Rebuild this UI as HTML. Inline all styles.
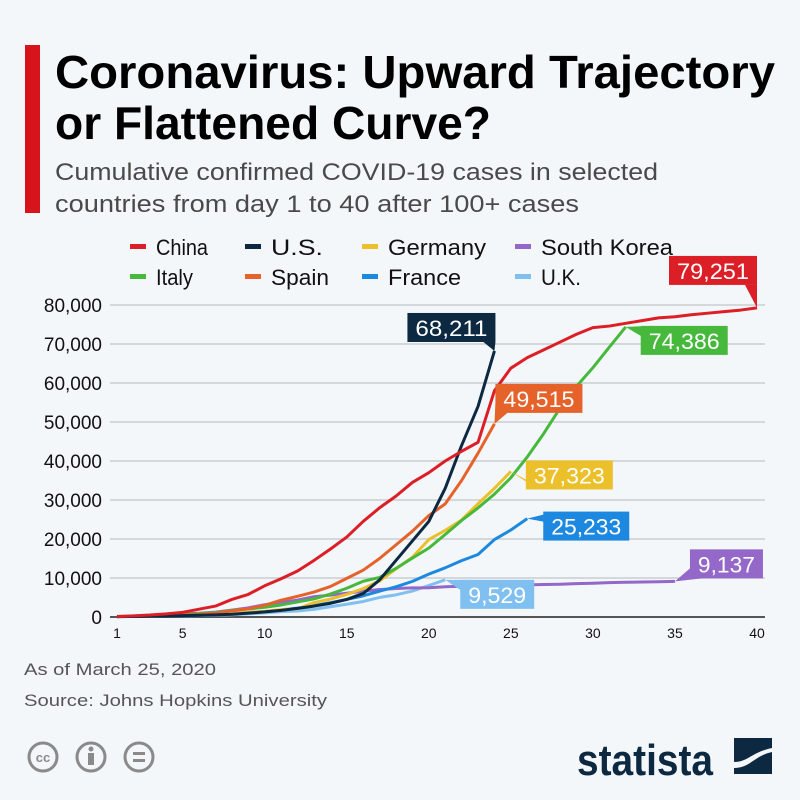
<!DOCTYPE html>
<html><head><meta charset="utf-8"><style>
html,body{margin:0;padding:0;background:#f3f7fa;}
svg{display:block;font-family:"Liberation Sans",sans-serif;}
</style></head><body>
<svg id="chart" width="800" height="800" viewBox="0 0 800 800">
<rect width="800" height="800" fill="#f3f7fa"/>
<rect x="25" y="45" width="15" height="168" fill="#d7131c"/>
<text x="55" y="88" font-size="46" font-weight="bold" fill="#000" textLength="720" lengthAdjust="spacingAndGlyphs">Coronavirus: Upward Trajectory</text>
<text x="55" y="139" font-size="46" font-weight="bold" fill="#000" textLength="436" lengthAdjust="spacingAndGlyphs">or Flattened Curve?</text>
<text x="55" y="180" font-size="24" fill="#4a4a4a" textLength="603" lengthAdjust="spacingAndGlyphs">Cumulative confirmed COVID-19 cases in selected</text>
<text x="55" y="212" font-size="24" fill="#4a4a4a" textLength="524" lengthAdjust="spacingAndGlyphs">countries from day 1 to 40 after 100+ cases</text>
<g id="legend"></g>
<g id="grid"></g>
<g id="series"></g>
<g id="labels"></g>
<text x="24" y="675" font-size="17" fill="#555" textLength="192" lengthAdjust="spacingAndGlyphs">As of March 25, 2020</text>
<text x="24" y="706" font-size="17" fill="#555" textLength="303" lengthAdjust="spacingAndGlyphs">Source: Johns Hopkins University</text>
<g fill="none" stroke="#8a8a8a" stroke-width="3">
<circle cx="43" cy="757" r="14"/><circle cx="91" cy="757" r="14"/><circle cx="139" cy="757" r="14"/>
<text x="43" y="762" font-size="13" font-weight="bold" fill="#8a8a8a" stroke="none" text-anchor="middle">cc</text>
<circle cx="91" cy="749" r="2.5" fill="#8a8a8a" stroke="none"/>
<rect x="88" y="753" width="6" height="12" fill="#8a8a8a" stroke="none"/>
<rect x="133" y="752" width="12" height="3" fill="#8a8a8a" stroke="none"/>
<rect x="133" y="759" width="12" height="3" fill="#8a8a8a" stroke="none"/>
</g>
<text x="577" y="775" font-size="44" font-weight="bold" fill="#0d2841" textLength="136" lengthAdjust="spacingAndGlyphs">statista</text>
<g>
<rect x="734" y="738" width="38" height="36" fill="#0d2841"/>
<path d="M734 762 C748 762 752 752 772 748 L772 752 C754 756 750 768 734 768 Z" fill="#f3f7fa"/>
</g>
</svg>
<script>
const days = Array.from({length:40},(_,i)=>i+1);
const xTicks = [1,5,10,15,20,25,30,35,40];
const yTicks = [0,10000,20000,30000,40000,50000,60000,70000,80000];
const seriesNames = ["China","U.S.","Germany","South Korea","Italy","Spain","France","U.K."];
const chinaData = [100,300,500,800,1200,2000,2800,4500,5800,8000,9800,11800,14500,17400,20500,24500,28000,31000,34500,37000,40000,42500,44800,58000,63800,66500,68500,70500,72500,74200,74600,75300,76000,76700,77000,77500,77900,78300,78700,79251];
const usData = [100,130,200,250,350,450,550,700,1000,1300,1700,2200,2800,3500,4500,6000,9500,14500,19500,24500,33000,44000,54000,68211];
const germanyData = [130,159,196,262,482,670,799,1040,1176,1457,1908,2078,3675,4585,5795,7272,9257,12327,15320,19848,22213,24873,29056,32986,37323];
const koreaData = [104,204,433,602,833,977,1261,1766,2337,3150,3736,4335,5186,5621,6088,6593,7041,7314,7478,7513,7755,7869,7979,8086,8162,8236,8320,8413,8565,8652,8799,8897,8961,9037,9137];
const italyData = [155,229,322,453,655,888,1128,1694,2036,2502,3089,3858,4636,5883,7375,9172,10149,12462,15113,17660,21157,24747,27980,31506,35713,41035,47021,53578,59138,63927,69176,74386];
const spainData = [120,165,230,400,500,670,1000,1600,2100,3000,4300,5300,6400,7800,9900,12000,15000,18500,22000,26000,29000,35000,42000,49515];
const franceData = [100,130,191,212,285,423,653,949,1126,1412,1784,2281,2876,3661,4499,5423,6633,7730,9134,10995,12612,14459,16018,19856,22304,25233];
const ukData = [115,163,206,273,321,373,456,590,797,1061,1391,1543,1950,2626,3269,3983,5018,5683,6650,8077,9529];

const NS="http://www.w3.org/2000/svg";
const X=d=>117+(d-1)*(757-117)/39;
const Y=v=>617-v*(617-305)/80000;
const fmt=v=>v.toLocaleString('en-US');
function mk(tag,attrs,parent){const e=document.createElementNS(NS,tag);for(const k in attrs)e.setAttribute(k,attrs[k]);parent.appendChild(e);return e;}
const grid=document.getElementById('grid');
yTicks.forEach(v=>{
  const l=mk('line',{x1:110,x2:765,y1:Y(v),y2:Y(v),stroke:v===0?'#555':'#c9cdd1','stroke-width':v===0?2:1.5},grid);
  
  
  const t=mk('text',{x:102,y:Y(v)+7,'font-size':19,fill:'#111','text-anchor':'end'},grid);
  t.textContent=fmt(v);
  
  
});
xTicks.forEach(d=>{
  const t=mk('text',{x:X(d),y:638,'font-size':14,fill:'#111','text-anchor':'middle'},grid);
  t.textContent=d;
  
  
});
const colors={"China":"#dc1e26","U.S.":"#0d2841","Germany":"#ecc02a","South Korea":"#9368c8","Italy":"#46b93c","Spain":"#e5632b","France":"#1d88df","U.K.":"#80c0f0"};
const dataMap={"China":chinaData,"U.S.":usData,"Germany":germanyData,"South Korea":koreaData,"Italy":italyData,"Spain":spainData,"France":franceData,"U.K.":ukData};
const drawOrder=["U.K.","South Korea","France","Germany","Italy","Spain","U.S.","China"];
const ser=document.getElementById('series');
drawOrder.forEach(n=>{
  const arr=dataMap[n];
  const p=mk('polyline',{points:arr.map((v,i)=>X(days[i])+','+Y(v)).join(' '),fill:'none',stroke:colors[n],'stroke-width':3,'stroke-linejoin':'round'},ser);
  
  
});
// legend
const leg=document.getElementById('legend');
const lx=[130,245,362,515], lw=[52,52,98,132,37,58,73,40];
seriesNames.forEach((n,i)=>{
  const col=i%4,row=Math.floor(i/4);
  const y=row?277:247;
  const r=mk('rect',{x:lx[col],y:y-3,width:16,height:5,fill:colors[n]},leg);
  
  
  const t=mk('text',{x:lx[col]+26,y:y+8,'font-size':22,fill:'#111',textLength:lw[i],lengthAdjust:'spacingAndGlyphs'},leg);
  t.textContent=n;
  
  
});
// end labels: [name, dx, dy, width, tailSide]
const labelCfg=[["China",-88,-52,88,"br"],["U.S.",-87,-38,88,"br"],["Italy",15,-1,87,"tl"],["Spain",1,-40,87,"bl"],["Germany",15,-11,87,"bl"],["France",16,-7,86,"tl"],["U.K.",15,0,74,"tl"],["South Korea",15,-32,73,"bl"]];
const lab=document.getElementById('labels');
labelCfg.forEach(([n,dx,dy,w,side])=>{
  const arr=dataMap[n];const v=arr[arr.length-1];
  const px=X(arr.length),py=Y(v);
  const bx=px+dx,by=py+dy,h=29;
  const g=mk('g',{},lab);
  
  
  mk('rect',{x:bx,y:by,width:w,height:h,fill:colors[n]},g);
  let tail='';
  if(side==='br') tail=`M${bx+w-12},${by+h} L${bx+w},${by+h} L${px},${py}Z`;
  if(side==='bl') tail=`M${bx},${by+h-10} L${bx+12},${by+h} L${px},${py}Z`;
  if(side==='tl') tail=`M${px},${py} L${bx+12},${by} L${bx},${by+10}Z`;
  mk('path',{d:tail,fill:colors[n]},g);
  const t=mk('text',{x:bx+w/2,y:by+23,'font-size':22,fill:'#fff','text-anchor':'middle',textLength:w-16,lengthAdjust:'spacingAndGlyphs'},g);
  t.textContent=fmt(v);
});
</script>
</body></html>
